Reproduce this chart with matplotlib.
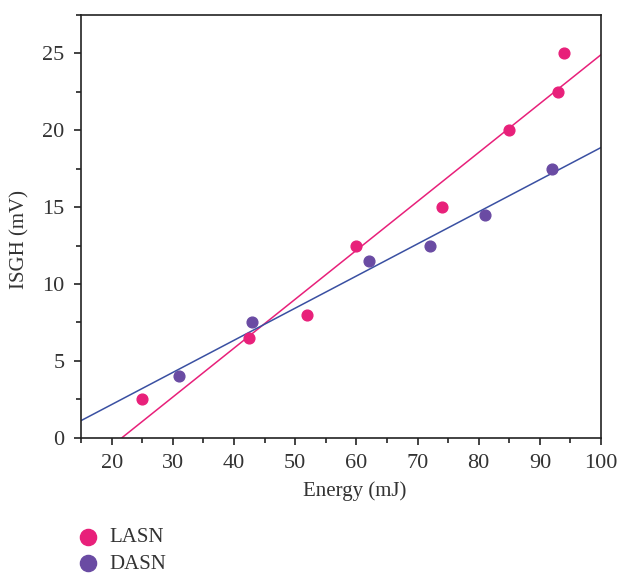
import numpy as np
import matplotlib.pyplot as plt
from matplotlib.ticker import MultipleLocator

plt.rcParams['font.family'] = ['Liberation Serif', 'DejaVu Serif']

# LASN
lasn_x = [25, 42.5, 52, 60, 74, 85, 93, 94]
lasn_y = [2.5, 6.5, 8, 12.5, 15, 20, 22.5, 25]
# DASN
dasn_x = [31, 43, 62, 72, 81, 92]
dasn_y = [4, 7.5, 11.5, 12.5, 14.5, 17.5]

pink = '#e8207a'
purple = '#6a4ba3'
blue = '#3a50a2'
txt = '#333333'

fig = plt.figure(figsize=(6.19, 5.73), dpi=100)
ax = fig.add_axes([0.131, 0.236, 0.84, 0.738])

# 线性拟合
xs = np.array([15, 100])
p1 = np.polyfit(lasn_x, lasn_y, 1)
p2 = np.polyfit(dasn_x, dasn_y, 1)
ax.plot(xs, np.polyval(p1, xs), color=pink, lw=1.1)
ax.plot(xs, np.polyval(p2, xs), color=blue, lw=1.1)

ax.scatter(lasn_x, lasn_y, s=60, color=pink, zorder=3, label='LASN')
ax.scatter(dasn_x, dasn_y, s=60, color=purple, zorder=3, label='DASN')

ax.set_xlim(15, 100)
ax.set_ylim(0, 27.5)
ax.xaxis.set_major_locator(MultipleLocator(10))
ax.xaxis.set_minor_locator(MultipleLocator(5))
ax.yaxis.set_major_locator(MultipleLocator(5))
ax.yaxis.set_minor_locator(MultipleLocator(2.5))
ax.set_xticks([20, 30, 40, 50, 60, 70, 80, 90, 100])
ax.tick_params(which='major', length=5, width=1.2, labelsize=16, color='#222222', labelcolor=txt, pad=7)
ax.tick_params(which='minor', length=3.5, width=1.2, color='#222222')
for s in ax.spines.values():
    s.set_linewidth(1.2)
    s.set_color('#222222')

ax.set_xlabel('Energy (mJ)', fontsize=15, color=txt)
ax.set_ylabel('ISGH (mV)', fontsize=15, color=txt)
ax.xaxis.set_label_coords(0.527, -0.102)
ax.yaxis.set_label_coords(-0.1, 0.47)

fig.legend(*ax.get_legend_handles_labels(), loc='upper left',
           bbox_to_anchor=(0.108, 0.097), frameon=False,
           fontsize=15, markerscale=1.5, handlelength=1.0, handletextpad=0.55,
           labelspacing=0.33, borderpad=0, labelcolor=txt)

fig.savefig('out.png', dpi=100)
